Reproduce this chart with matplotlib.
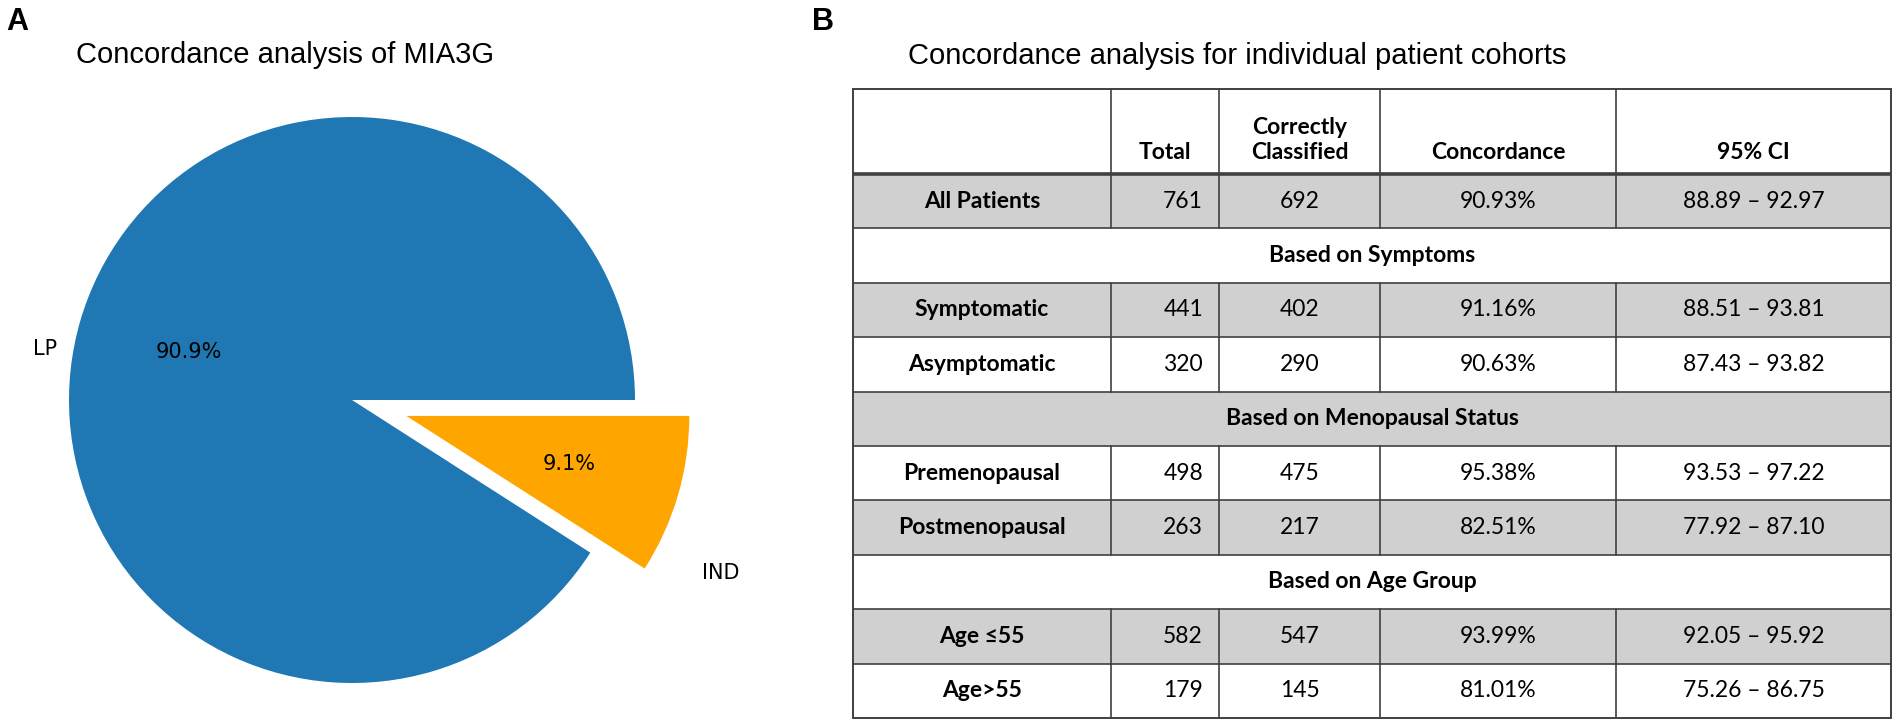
import matplotlib
matplotlib.use('Agg')
import numpy as np
import matplotlib.pyplot as plt
from matplotlib.patches import Rectangle

# pie data
pie_labels = ['LP', 'IND']
pie_counts = [692, 69]
pie_colors = ['#1f77b4', '#ffa500']

# table data
col_headers = ['', 'Total', 'Correctly\nClassified', 'Concordance', '95% CI']
group_names = ['Based on Symptoms', 'Based on Menopausal Status', 'Based on Age Group']
cohorts = ['All Patients', 'Symptomatic', 'Asymptomatic', 'Premenopausal',
           'Postmenopausal', 'Age \u226455', 'Age>55']
cohort_group = [None, 0, 0, 1, 1, 2, 2]
totals = [761, 441, 320, 498, 263, 582, 179]
correct = [692, 402, 290, 475, 217, 547, 145]
concordance = [90.93, 91.16, 90.63, 95.38, 82.51, 93.99, 81.01]
ci_low = [88.89, 88.51, 87.43, 93.53, 77.92, 92.05, 75.26]
ci_high = [92.97, 93.81, 93.82, 97.22, 87.10, 95.92, 86.75]

W, H = 1901, 724
fig = plt.figure(figsize=(W / 100, H / 100), dpi=100)

def px_axes(x0, y0, x1, y1):
    return fig.add_axes([x0 / W, 1 - y1 / H, (x1 - x0) / W, (y1 - y0) / H])

title_font = ['Liberation Sans', 'DejaVu Sans']
cell_font = ['Lato', 'DejaVu Sans']

# panel A: pie
fig.text(6 / W, 1 - 22 / H, 'A', fontsize=22, fontweight='bold', family=title_font, va='center')
fig.text(76 / W, 1 - 55 / H, 'Concordance analysis of MIA3G', fontsize=21, family=title_font,
         ha='left', va='center')

r = 283
cx, cy = 352, 400
ax = px_axes(cx - 1.4 * r, cy - 1.4 * r, cx + 1.4 * r, cy + 1.4 * r)
wedges, texts, autotexts = ax.pie(pie_counts, labels=pie_labels, colors=pie_colors,
                                  explode=(0, 0.2), autopct='%1.1f%%', startangle=0,
                                  textprops={'fontsize': 15}, wedgeprops={'clip_on': False})
# outer labels in the original sit a bit lower than the wedge middles
label_shift = [6.5, -10]
label_scale = [0.96, 1.06]
for t, s, f in zip(texts, label_shift, label_scale):
    x, y = t.get_position()
    d = np.hypot(x, y) * f
    a = np.arctan2(y, x) + np.deg2rad(s)
    t.set_position((d * np.cos(a), d * np.sin(a)))
ax.set_xlim(-1.4, 1.4)
ax.set_ylim(-1.4, 1.4)
ax.set_aspect('equal')
ax.axis('off')

# panel B: table
fig.text(812 / W, 1 - 22 / H, 'B', fontsize=22, fontweight='bold', family=title_font, va='center')
fig.text(908 / W, 1 - 56 / H, 'Concordance analysis for individual patient cohorts', fontsize=21,
         family=title_font, ha='left', va='center')

col_edges = [0, 258, 366, 527, 763, 1038]
head_h = 85
row_h = 54.4

# build rows: ('group', name) or ('cohort', index)
rows = []
prev = None
for i, g in enumerate(cohort_group):
    if g is not None and g != prev:
        rows.append(('group', g))
    rows.append(('cohort', i))
    prev = g

tab_w = col_edges[-1]
tab_h = head_h + row_h * len(rows)
tab_top = 89
tx = px_axes(853, tab_top, 853 + tab_w, tab_top + tab_h)
tx.set_xlim(0, tab_w)
tx.set_ylim(tab_h, 0)
tx.axis('off')

line_c = '#404040'
lw = 1.2
fs = 16.5

# header
for j, h in enumerate(col_headers):
    if not h:
        continue
    xc = (col_edges[j] + col_edges[j + 1]) / 2
    tx.text(xc, head_h - 11, h, ha='center', va='bottom', fontsize=fs, fontweight='bold',
            family=cell_font, linespacing=1.25)

for k, (kind, idx) in enumerate(rows):
    y0 = head_h + k * row_h
    yc = y0 + row_h / 2
    shade = '#d0d0d0' if k % 2 == 0 else 'white'
    tx.add_patch(Rectangle((0, y0), tab_w, row_h, facecolor=shade, edgecolor='none', zorder=0))
    tx.plot([0, tab_w], [y0, y0], color=line_c, lw=lw if k else 2.6, zorder=2)
    if kind == 'group':
        tx.text(tab_w / 2, yc, group_names[idx], ha='center', va='center', fontsize=fs,
                fontweight='bold', family=cell_font)
        continue
    for j in range(1, 5):
        tx.plot([col_edges[j]] * 2, [y0, y0 + row_h], color=line_c, lw=lw, zorder=2)
    tx.text((col_edges[0] + col_edges[1]) / 2, yc, cohorts[idx], ha='center', va='center',
            fontsize=fs, fontweight='bold', family=cell_font)
    tx.text(col_edges[2] - 16, yc, str(totals[idx]), ha='right', va='center', fontsize=fs,
            family=cell_font)
    tx.text((col_edges[2] + col_edges[3]) / 2, yc, str(correct[idx]), ha='center', va='center',
            fontsize=fs, family=cell_font)
    tx.text((col_edges[3] + col_edges[4]) / 2, yc, f'{concordance[idx]:.2f}%', ha='center',
            va='center', fontsize=fs, family=cell_font)
    tx.text((col_edges[4] + col_edges[5]) / 2, yc,
            f'{ci_low[idx]:.2f} \u2013 {ci_high[idx]:.2f}', ha='center', va='center', fontsize=fs,
            family=cell_font)

# header column lines and outer border
for j in range(1, 5):
    tx.plot([col_edges[j]] * 2, [0, head_h], color=line_c, lw=lw, zorder=2)
tx.add_patch(Rectangle((0, 0), tab_w, tab_h, facecolor='none', edgecolor=line_c,
                       lw=1.4, zorder=3, clip_on=False))

fig.savefig('out.png', dpi=100)
